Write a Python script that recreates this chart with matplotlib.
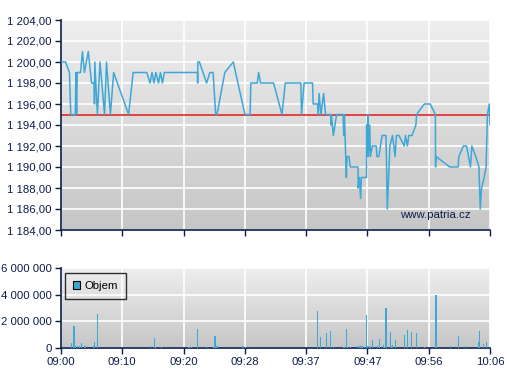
import numpy as np
import matplotlib
matplotlib.use("Agg")
import matplotlib.pyplot as plt
from matplotlib.colors import LinearSegmentedColormap
from matplotlib.ticker import FuncFormatter

plt.rcParams['font.family'] = ['Liberation Sans', 'DejaVu Sans']

# cena - minuty od 09:00
price_t = [0.0, 0.7, 1.3, 1.5, 2.2, 2.3, 2.4, 2.5, 3.0, 3.3, 3.6, 4.2, 4.7, 5.1, 5.15, 5.2,
           5.6, 6.0, 6.7, 7.0, 7.6, 8.1, 10.4, 11.1, 13.2, 13.7, 14.0, 14.3, 14.6, 15.0,
           15.3, 15.6, 15.9, 21.0, 21.02, 21.05, 21.3, 22.4, 22.9, 23.4, 23.8, 24.0, 25.2,
           26.5, 28.3, 29.1, 29.2, 30.2, 30.4, 30.7, 32.7, 34.0, 34.5, 36.9, 37.0, 37.4,
           38.7, 38.8, 39.5, 39.6, 39.7, 40.0, 40.4, 40.7, 41.5, 41.52, 41.6, 41.9, 42.4,
           43.4, 43.5, 43.6, 43.9, 44.0, 44.3, 44.5, 45.7, 45.72, 45.9, 46.1, 46.2, 47.0,
           47.02, 47.1, 47.2, 47.3, 47.5, 47.6, 47.9, 48.5, 48.6, 48.9, 49.4, 50.0, 50.2,
           50.6, 51.0, 51.4, 51.6, 52.0, 52.8, 53.0, 53.3, 53.5, 54.0, 54.6, 54.7, 55.9,
           56.8, 57.6, 57.62, 57.7, 59.8, 61.1, 61.2, 61.9, 62.4, 63.0, 63.2, 63.8, 64.3,
           64.5, 64.7, 65.1, 65.4, 65.6, 65.9, 66.0]
price = [1200, 1200, 1199, 1195, 1195, 1199, 1195, 1199, 1199, 1201, 1199, 1201, 1198, 1198, 1196, 1200,
         1195, 1200, 1195, 1200, 1195, 1199, 1195, 1199, 1199, 1198, 1199, 1198, 1199, 1198,
         1199, 1198, 1199, 1199, 1198, 1200, 1200, 1198, 1199, 1199, 1195, 1195, 1199,
         1200, 1195, 1195, 1198, 1198, 1199, 1198, 1198, 1195, 1198, 1198, 1195, 1198,
         1198, 1196, 1196, 1195, 1197, 1195, 1197, 1195, 1195, 1194, 1195, 1193, 1195,
         1195, 1193, 1195, 1189, 1191, 1191, 1190, 1190, 1188, 1189, 1187, 1189, 1189,
         1194, 1191, 1195, 1191, 1194, 1191, 1192, 1192, 1191, 1191, 1193, 1193, 1186,
         1192, 1193, 1191, 1193, 1193, 1192, 1193, 1192, 1193, 1193, 1194, 1195, 1196,
         1196, 1195, 1190, 1191, 1190, 1190, 1191, 1192, 1192, 1190, 1192, 1191, 1190,
         1186, 1188, 1189, 1190, 1195, 1196, 1194]

# objem
vol_t = [1.6, 2.0, 2.2, 2.5, 2.9, 3.2, 3.7, 5.0, 5.2, 5.6, 13.8, 14.35, 14.5, 15.5, 19.7,
         20.1, 21.0, 22.4, 23.4, 23.7, 24.0, 28.0, 28.35, 39.4, 39.9, 40.8, 41.4, 41.9,
         43.4, 43.6, 43.9, 44.1, 44.6, 45.6, 46.0, 46.2, 46.4, 46.7, 47.0, 47.1, 47.4,
         47.6, 47.9, 48.7, 49.0, 49.6, 49.8, 50.0, 50.7, 50.8, 51.0, 51.4, 52.8, 53.3,
         53.9, 54.7, 55.9, 57.7, 59.9, 61.1, 62.2, 64.2, 64.35, 65.0, 65.4]
vol = [350000, 1650000, 150000, 150000, 150000, 350000, 150000, 150000, 450000, 2550000,
       150000, 750000, 50000, 80000, 80000, 80000, 1430000, 80000, 80000, 900000, 120000,
       150000, 50000, 2750000, 830000, 1150000, 1250000, 50000, 50000, 100000, 1450000,
       50000, 100000, 150000, 120000, 120000, 120000, 50000, 2450000, 150000, 150000,
       150000, 630000, 150000, 700000, 200000, 100000, 3030000, 1230000, 150000, 200000,
       630000, 1000000, 1380000, 1230000, 1150000, 80000, 3950000, 120000, 930000,
       120000, 480000, 1300000, 330000, 480000]

ref_price = 1195
tick_pos = np.linspace(0, 66, 8)
tick_labels = ['09:00', '09:10', '09:20', '09:28', '09:37', '09:47', '09:56', '10:06']

navy = '#0b1d4a'
blue = '#3fa7d6'
grad = LinearSegmentedColormap.from_list('g', ['#c6c6c6', '#eeeeee'])

fig = plt.figure(figsize=(5.07, 3.80), dpi=100)
ax1 = fig.add_axes([61/507, 1-230/380, 429/507, 210/380])
ax2 = fig.add_axes([61/507, 1-348/380, 429/507, 80/380])


def style(ax, ymin, ymax):
    ax.set_xlim(0, 66)
    ax.set_ylim(ymin, ymax)
    ax.imshow(np.linspace(0, 1, 100).reshape(-1, 1), aspect='auto', cmap=grad,
              extent=[0, 66, ymin, ymax], origin='lower', zorder=0)
    ax.grid(True, color='white', linewidth=1.2, zorder=1)
    ax.set_axisbelow(True)
    for s in ['top', 'right']:
        ax.spines[s].set_visible(False)
    for s in ['left', 'bottom']:
        ax.spines[s].set_color(navy)
        ax.spines[s].set_linewidth(1.2)
    ax.tick_params(colors=navy, labelcolor=navy, labelsize=8.2, length=4, width=1, pad=2.5)
    ax.set_xticks(tick_pos)


style(ax1, 1184, 1204)
ax1.set_yticks(np.arange(1184, 1205, 2))
ax1.yaxis.set_major_formatter(FuncFormatter(
    lambda v, p: f"{v:,.2f}".replace(',', ' ').replace('.', ',')))
ax1.set_xticklabels([])
ax1.axhline(ref_price, color='#e02a2a', linewidth=1.2, zorder=2)
ax1.plot(price_t, price, color=blue, linewidth=1.1, zorder=3)
ax1.text(0.955, 0.07, 'www.patria.cz', transform=ax1.transAxes, ha='right',
         va='center', fontsize=8.2, color=navy, zorder=4)

style(ax2, 0, 6000000)
ax2.set_yticks([0, 2000000, 4000000, 6000000])
ax2.yaxis.set_major_formatter(FuncFormatter(lambda v, p: f"{int(v):,}".replace(',', ' ')))
ax2.set_xticklabels(tick_labels)
ax2.bar(vol_t, vol, width=0.18, color=blue, label='Objem', zorder=3)
leg = ax2.legend(loc='upper left', fancybox=False, edgecolor='black', facecolor='none',
                 fontsize=8.2, handlelength=0.6, handleheight=0.6, handletextpad=0.4,
                 borderpad=0.7, borderaxespad=0, bbox_to_anchor=(4/429, 1-5/80))
leg.get_frame().set_linewidth(1)
for h in leg.legend_handles:
    h.set_edgecolor('black')
    h.set_linewidth(0.8)
for t in leg.get_texts():
    t.set_color('black')

fig.savefig('out.png', dpi=100)
